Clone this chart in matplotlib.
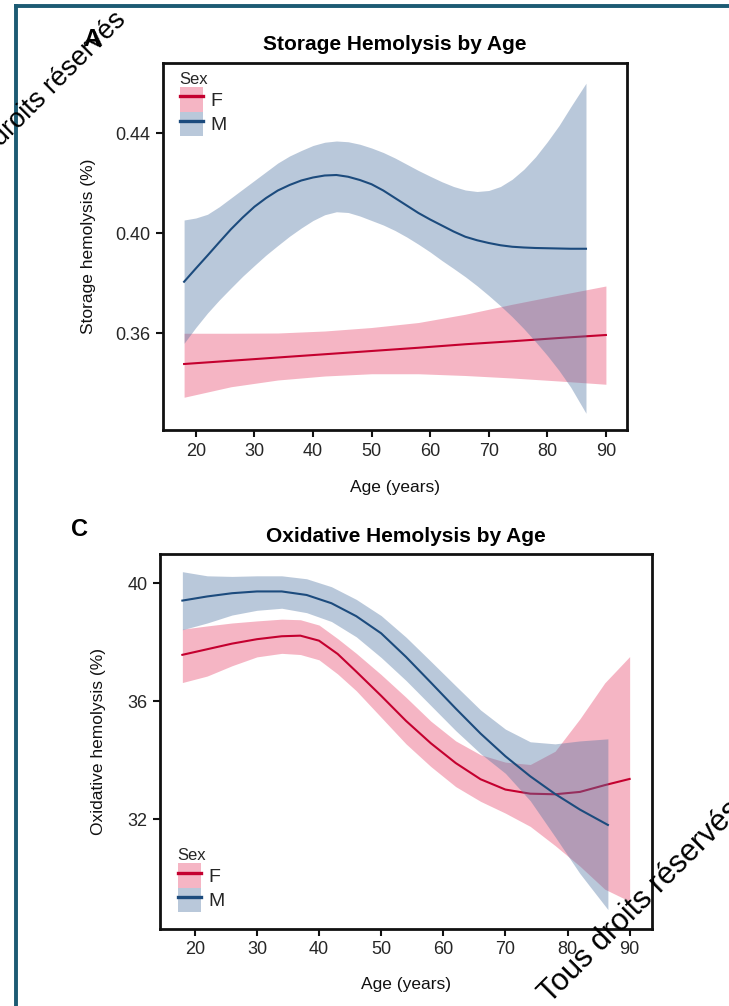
import matplotlib
matplotlib.use('Agg')
import matplotlib.pyplot as plt
from matplotlib.patches import Patch
from matplotlib.lines import Line2D

# ---- data (smooth fit + 95% band) ----
# Storage hemolysis (%)
st_age_f = [18, 26, 34, 42, 50, 58, 66, 74, 82, 90]
st_fit_f = [0.3476, 0.3489, 0.3502, 0.3515, 0.3528, 0.3541, 0.3555, 0.3567, 0.3580, 0.3592]
st_hi_f = [0.3599, 0.3599, 0.3600, 0.3608, 0.3622, 0.3642, 0.3675, 0.3715, 0.3752, 0.3788]
st_lo_f = [0.3343, 0.3385, 0.3412, 0.3428, 0.3437, 0.3437, 0.3430, 0.3420, 0.3408, 0.3395]

st_age_m = [18, 20, 22, 24, 26, 28, 30, 32, 34, 36, 38, 40, 42, 44, 46, 48, 50, 52, 54, 56,
            58, 60, 62, 64, 66, 68, 70, 72, 74, 76, 78, 80, 82, 84, 86.6]
st_fit_m = [0.3805, 0.3858, 0.3910, 0.3963, 0.4015, 0.4062, 0.4105, 0.4140, 0.4170, 0.4192,
            0.4210, 0.4222, 0.4230, 0.4232, 0.4225, 0.4212, 0.4195, 0.4170, 0.4140, 0.4110,
            0.4080, 0.4054, 0.4030, 0.4006, 0.3985, 0.3971, 0.3960, 0.3951, 0.3945, 0.3942,
            0.3940, 0.3939, 0.3938, 0.3937, 0.3937]
st_hi_m = [0.4052, 0.4060, 0.4075, 0.4105, 0.4140, 0.4175, 0.4210, 0.4245, 0.4280, 0.4308,
           0.4330, 0.4350, 0.4363, 0.4368, 0.4365, 0.4355, 0.4340, 0.4322, 0.4300, 0.4275,
           0.4250, 0.4227, 0.4205, 0.4186, 0.4172, 0.4166, 0.4170, 0.4186, 0.4215, 0.4255,
           0.4305, 0.4365, 0.4430, 0.4505, 0.4599]
st_lo_m = [0.3559, 0.3622, 0.3680, 0.3732, 0.3780, 0.3827, 0.3870, 0.3912, 0.3950, 0.3987,
           0.4020, 0.4050, 0.4073, 0.4085, 0.4082, 0.4068, 0.4050, 0.4032, 0.4010, 0.3984,
           0.3955, 0.3924, 0.3890, 0.3858, 0.3825, 0.3789, 0.3750, 0.3709, 0.3665, 0.3617,
           0.3565, 0.3510, 0.3450, 0.3383, 0.3279]

# Oxidative hemolysis (%)
ox_age_f = [18, 22, 26, 30, 34, 37, 40, 43, 46, 50, 54, 58, 62, 66, 70, 74, 78, 82, 86, 90]
ox_fit_f = [37.57, 37.76, 37.95, 38.10, 38.20, 38.22, 38.05, 37.60, 37.00, 36.18,
            35.33, 34.57, 33.90, 33.35, 33.00, 32.86, 32.84, 32.92, 33.15, 33.36]
ox_hi_f = [38.44, 38.55, 38.65, 38.72, 38.78, 38.76, 38.58, 38.12, 37.62, 36.90,
           36.13, 35.32, 34.65, 34.18, 33.93, 33.85, 34.30, 35.40, 36.62, 37.51]
ox_lo_f = [36.63, 36.85, 37.20, 37.50, 37.62, 37.58, 37.40, 36.92, 36.35, 35.45,
           34.55, 33.78, 33.10, 32.60, 32.20, 31.75, 31.10, 30.40, 29.62, 29.21]

ox_age_m = [18, 22, 26, 30, 34, 38, 42, 46, 50, 54, 58, 62, 66, 70, 74, 78, 82, 86.5]
ox_fit_m = [39.41, 39.55, 39.66, 39.72, 39.72, 39.60, 39.32, 38.88, 38.30, 37.50,
            36.63, 35.75, 34.90, 34.13, 33.45, 32.85, 32.32, 31.80]
ox_hi_m = [40.39, 40.25, 40.23, 40.25, 40.25, 40.15, 39.88, 39.45, 38.90, 38.17,
           37.35, 36.52, 35.70, 35.05, 34.62, 34.55, 34.65, 34.72]
ox_lo_m = [38.42, 38.65, 38.92, 39.08, 39.15, 39.00, 38.70, 38.18, 37.48, 36.70,
           35.85, 35.00, 34.22, 33.55, 32.62, 31.40, 30.15, 28.93]

age_ticks = [20, 30, 40, 50, 60, 70, 80, 90]
st_ticks = [0.36, 0.40, 0.44]
ox_ticks = [32, 36, 40]

F_LINE = '#c4002f'
M_LINE = '#1c4b7d'
F_FILL = '#e8476c'
M_FILL = '#5276a3'
TEAL = '#1c5b73'

plt.rcParams['font.family'] = ['Liberation Sans', 'DejaVu Sans']

W, H = 729, 1006
fig = plt.figure(figsize=(W / 100, H / 100), dpi=100)


def px_axes(l, t, r, b):
    return fig.add_axes([l / W, (H - b) / H, (r - l) / W, (b - t) / H])


def draw_panel(ax, af, ff, hf, lf, am, fm, hm, lm):
    ax.fill_between(af, lf, hf, color=F_FILL, alpha=0.4, lw=0, zorder=1)
    ax.plot(af, ff, color=F_LINE, lw=1.5, zorder=2)
    ax.fill_between(am, lm, hm, color=M_FILL, alpha=0.4, lw=0, zorder=3)
    ax.plot(am, fm, color=M_LINE, lw=1.5, zorder=4)
    ax.set_xlim(14.4, 93.6)
    ax.set_xticks(age_ticks)
    for s in ax.spines.values():
        s.set_linewidth(2.0)
        s.set_color('#111111')
    ax.tick_params(direction='out', length=5, width=1.5, color='#111111',
                   labelsize=13, labelcolor='#262626', pad=4)


def add_legend(ax, loc, anchor):
    handles = [(Patch(facecolor=F_FILL, alpha=0.4, lw=0), Line2D([], [], color=F_LINE, lw=2.4)),
               (Patch(facecolor=M_FILL, alpha=0.4, lw=0), Line2D([], [], color=M_LINE, lw=2.4))]
    leg = ax.legend(handles, ['F', 'M'], title='Sex', loc=loc, bbox_to_anchor=anchor,
                    frameon=False, fontsize=14, title_fontsize=12, alignment='left',
                    handlelength=1.2, handleheight=1.55, labelspacing=0.0,
                    handletextpad=0.4, borderpad=0.0, borderaxespad=0.0)
    leg.get_title().set_color('#262626')
    for t in leg.get_texts():
        t.set_color('#262626')


# ---- A: storage hemolysis ----
ax1 = px_axes(163, 63, 627, 430)
draw_panel(ax1, st_age_f, st_fit_f, st_hi_f, st_lo_f, st_age_m, st_fit_m, st_hi_m, st_lo_m)
ax1.set_ylim(0.3212, 0.468)
ax1.set_yticks(st_ticks)
ax1.set_yticklabels(['0.36', '0.40', '0.44'])
ax1.set_title('Storage Hemolysis by Age', fontsize=15, fontweight='bold', pad=9)
ax1.set_xlabel('Age (years)', fontsize=12.5, color='#111111')
ax1.set_ylabel('Storage hemolysis (%)', fontsize=12.5, color='#111111')
ax1.xaxis.set_label_coords(0.5, -0.135)
ax1.yaxis.set_label_coords(-0.145, 0.5)
add_legend(ax1, 'upper left', (0.036, 0.975))

# ---- C: oxidative hemolysis ----
ax2 = px_axes(160, 554, 652, 929)
draw_panel(ax2, ox_age_f, ox_fit_f, ox_hi_f, ox_lo_f, ox_age_m, ox_fit_m, ox_hi_m, ox_lo_m)
ax2.set_ylim(28.27, 40.99)
ax2.set_yticks(ox_ticks)
ax2.set_title('Oxidative Hemolysis by Age', fontsize=15, fontweight='bold', pad=9)
ax2.set_xlabel('Age (years)', fontsize=12.5, color='#111111')
ax2.set_ylabel('Oxidative hemolysis (%)', fontsize=12.5, color='#111111')
ax2.xaxis.set_label_coords(0.5, -0.128)
ax2.yaxis.set_label_coords(-0.11, 0.5)
add_legend(ax2, 'lower left', (0.036, 0.045))

# panel letters
fig.text(83 / W, 1 - 40 / H, 'A', fontsize=17, fontweight='bold', va='center')
fig.text(71 / W, 1 - 530 / H, 'C', fontsize=17, fontweight='bold', va='center')

# teal frame of the journal page
fig.add_artist(Line2D([16 / W, 16 / W], [0, 1 - 6 / H], color=TEAL, lw=2.8))
fig.add_artist(Line2D([16 / W, 1], [1 - 6 / H, 1 - 6 / H], color=TEAL, lw=2.8))

# copyright stamps
fig.text(-45 / W, 1 - 193 / H, 'Tous droits réservés', fontsize=19.5, rotation=45,
         rotation_mode='anchor', ha='left', va='baseline', color='black')
fig.text(550 / W, 1 - 1004 / H, 'Tous droits réservés', fontsize=22, rotation=45,
         rotation_mode='anchor', ha='left', va='baseline', color='black')

fig.savefig('out.png', dpi=100)
